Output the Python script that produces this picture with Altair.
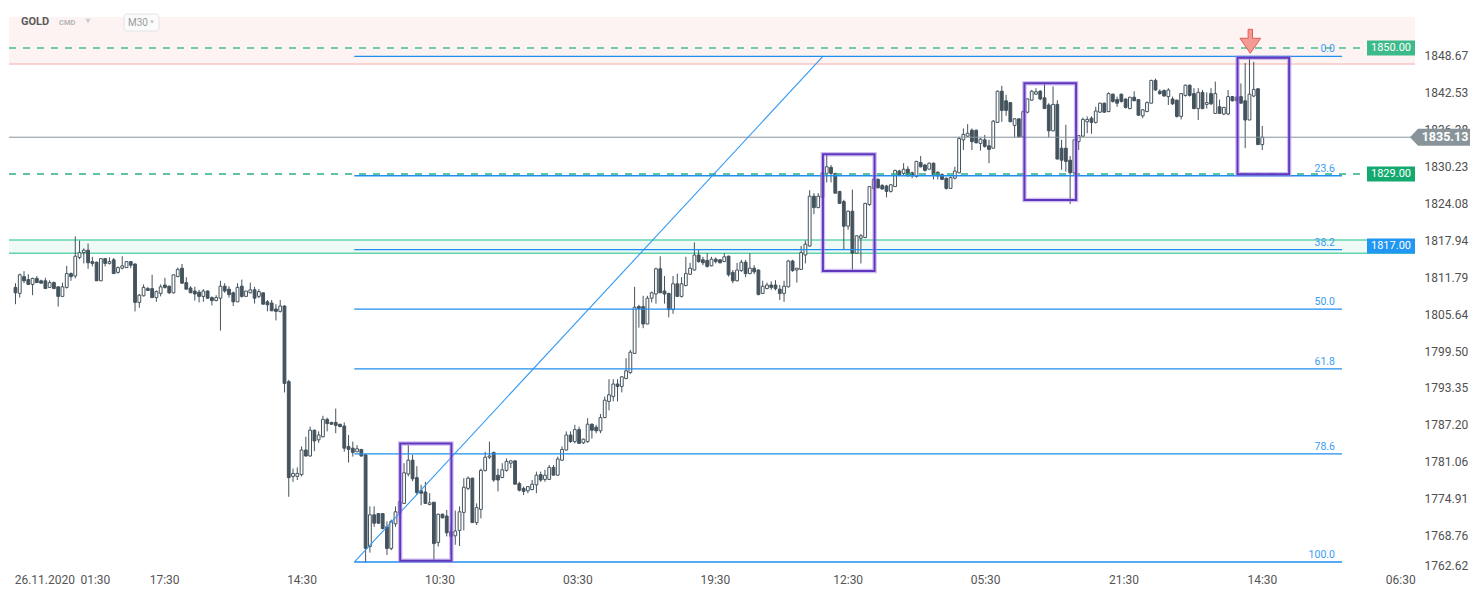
import altair as alt
import pandas as pd

# ---------------- data: GOLD, M30 candles ----------------
opens = [
    1810.1, 1809.1, 1811.9, 1811.4, 1810.6, 1811.6, 1811.2, 1811.2, 1810.1, 1810.9,
    1810.2, 1808.6, 1810.1, 1812.4, 1812.0, 1815.1, 1815.9, 1816.3, 1814.4, 1814.3,
    1811.2, 1814.9, 1814.1, 1814.7, 1812.6, 1813.3, 1813.4, 1814.4, 1814.0, 1807.6,
    1808.7, 1809.9, 1809.9, 1808.4, 1809.1, 1810.5, 1810.3, 1809.2, 1811.9, 1813.3,
    1810.9, 1810.0, 1809.5, 1809.3, 1808.6, 1809.5, 1808.4, 1807.9, 1808.3, 1810.3,
    1809.8, 1809.2, 1807.7, 1810.3, 1808.6, 1809.2, 1809.7, 1808.6, 1809.2, 1807.7,
    1807.5, 1806.5, 1806.1, 1807.0, 1794.4, 1778.6, 1778.6, 1778.9, 1783.0, 1782.0,
    1786.3, 1784.7, 1785.2, 1788.1, 1787.6, 1787.6, 1787.3, 1787.0, 1783.6, 1783.3,
    1782.7, 1783.1, 1782.2, 1766.9, 1772.2, 1772.4, 1772.4, 1770.2, 1766.6, 1770.7,
    1772.5, 1774.1, 1779.0, 1781.3, 1778.4, 1776.2, 1776.0, 1773.9, 1774.3, 1767.6,
    1772.3, 1772.0, 1769.4, 1768.7, 1769.6, 1772.6, 1776.6, 1778.3, 1770.9, 1773.1,
    1779.6, 1781.8, 1782.6, 1778.8, 1778.4, 1779.6, 1780.8, 1781.2, 1777.4, 1776.6,
    1776.2, 1776.4, 1777.2, 1778.9, 1778.1, 1778.1, 1780.1, 1778.8, 1781.3, 1783.0,
    1785.5, 1784.4, 1786.4, 1784.2, 1784.4, 1787.3, 1786.8, 1786.2, 1788.4, 1791.1,
    1791.9, 1794.0, 1793.6, 1794.9, 1795.9, 1799.1, 1806.9, 1806.9, 1804.0, 1808.3,
    1809.0, 1813.2, 1809.5, 1809.1, 1806.4, 1810.7, 1808.6, 1810.4, 1812.3, 1813.0,
    1815.5, 1814.7, 1814.6, 1813.7, 1814.8, 1814.7, 1814.4, 1815.3, 1812.6, 1811.2,
    1812.9, 1814.3, 1812.4, 1813.3, 1813.0, 1809.1, 1809.9, 1810.5, 1810.5, 1809.8,
    1809.1, 1810.2, 1814.5, 1813.0, 1813.1, 1815.5, 1817.0, 1825.3, 1823.4, 1825.1,
    1829.1, 1830.1, 1829.1, 1826.1, 1824.4, 1820.3, 1822.8, 1815.8, 1818.3, 1818.4,
    1823.9, 1826.6, 1828.1, 1827.1, 1827.0, 1826.1, 1826.9, 1829.5, 1829.1, 1829.8,
    1829.2, 1828.6, 1830.9, 1830.5, 1829.8, 1830.8, 1829.3, 1828.9, 1828.3, 1826.6,
    1828.3, 1829.2, 1834.7, 1835.3, 1836.3, 1836.3, 1834.1, 1834.7, 1833.7, 1833.3,
    1837.6, 1842.8, 1841.2, 1840.9, 1837.1, 1838.2, 1835.2, 1839.3, 1841.3, 1842.3,
    1842.8, 1841.7, 1840.5, 1836.2, 1840.6, 1833.3, 1833.3, 1831.3, 1829.2, 1834.4,
    1835.3, 1837.7, 1838.3, 1837.6, 1839.3, 1840.8, 1839.4, 1842.3, 1841.4, 1842.3,
    1841.5, 1839.9, 1841.8, 1841.4, 1838.7, 1839.4, 1840.8, 1844.6, 1842.8, 1842.9,
    1841.9, 1841.5, 1841.3, 1838.6, 1842.1, 1843.8, 1842.4, 1839.9, 1842.6, 1840.6,
    1842.4, 1839.1, 1840.2, 1839.0, 1839.0, 1841.9, 1841.8, 1841.9, 1841.2, 1838.0,
    1842.0, 1843.2, 1833.9,
]
highs = [
    1810.8, 1812.4, 1812.8, 1812.3, 1811.7, 1812.0, 1811.4, 1811.7, 1811.3, 1811.1,
    1810.2, 1810.9, 1813.7, 1812.6, 1818.6, 1817.9, 1816.6, 1817.4, 1815.2, 1814.4,
    1814.9, 1815.0, 1815.1, 1815.0, 1813.6, 1815.3, 1814.4, 1814.5, 1814.1, 1809.0,
    1810.6, 1810.2, 1812.2, 1809.6, 1810.6, 1811.7, 1810.4, 1812.2, 1813.4, 1814.0,
    1811.8, 1810.3, 1810.2, 1809.7, 1809.8, 1809.6, 1808.6, 1808.8, 1811.2, 1810.8,
    1810.3, 1809.4, 1810.8, 1811.4, 1809.5, 1810.9, 1810.2, 1809.8, 1809.2, 1808.0,
    1808.0, 1807.3, 1808.0, 1807.1, 1794.7, 1779.9, 1780.1, 1783.6, 1785.2, 1786.9,
    1786.4, 1786.1, 1788.7, 1788.4, 1787.7, 1789.9, 1787.3, 1787.6, 1785.5, 1784.4,
    1783.8, 1783.1, 1782.3, 1773.6, 1773.6, 1772.5, 1772.5, 1771.1, 1771.4, 1773.6,
    1774.6, 1780.8, 1783.8, 1782.2, 1780.3, 1777.2, 1777.7, 1775.8, 1774.3, 1772.4,
    1772.4, 1773.0, 1770.5, 1772.9, 1773.6, 1778.3, 1778.6, 1778.4, 1774.1, 1779.9,
    1782.7, 1784.4, 1782.7, 1779.9, 1780.8, 1781.6, 1781.2, 1781.2, 1777.7, 1776.9,
    1776.9, 1778.0, 1779.4, 1779.4, 1779.7, 1780.5, 1780.5, 1781.9, 1783.6, 1786.1,
    1786.1, 1787.2, 1786.9, 1784.9, 1788.3, 1787.4, 1787.2, 1789.0, 1791.9, 1794.8,
    1794.8, 1794.8, 1795.3, 1798.3, 1799.7, 1810.2, 1807.2, 1808.7, 1808.7, 1809.4,
    1813.4, 1815.3, 1812.0, 1809.2, 1812.0, 1812.4, 1811.8, 1815.2, 1814.2, 1817.6,
    1816.4, 1815.2, 1815.8, 1815.2, 1815.1, 1814.8, 1815.8, 1815.4, 1813.0, 1814.2,
    1814.7, 1814.7, 1815.8, 1813.8, 1813.1, 1811.2, 1810.9, 1811.1, 1811.3, 1810.5,
    1811.2, 1814.7, 1814.7, 1813.3, 1817.0, 1817.9, 1826.3, 1825.8, 1825.8, 1829.3,
    1832.4, 1830.5, 1829.2, 1826.1, 1824.7, 1822.9, 1826.4, 1818.7, 1819.0, 1824.2,
    1827.0, 1828.3, 1828.3, 1827.3, 1827.2, 1827.3, 1829.7, 1829.7, 1830.8, 1830.3,
    1829.4, 1831.2, 1832.0, 1830.7, 1830.9, 1830.9, 1829.4, 1829.1, 1828.4, 1828.6,
    1830.2, 1835.2, 1836.6, 1837.3, 1836.6, 1836.4, 1835.0, 1835.5, 1834.7, 1838.0,
    1842.9, 1843.7, 1842.2, 1841.0, 1838.3, 1838.2, 1839.6, 1841.6, 1843.0, 1843.3,
    1843.0, 1844.1, 1840.8, 1843.6, 1841.3, 1834.7, 1837.2, 1832.0, 1834.7, 1835.5,
    1838.4, 1838.6, 1838.6, 1840.2, 1840.9, 1840.9, 1842.6, 1842.4, 1841.9, 1842.4,
    1841.6, 1841.8, 1842.8, 1841.4, 1839.8, 1841.1, 1844.7, 1844.9, 1843.1, 1843.1,
    1843.3, 1841.9, 1841.4, 1842.4, 1843.9, 1843.9, 1843.3, 1843.3, 1843.0, 1842.6,
    1843.3, 1844.4, 1841.4, 1840.2, 1843.0, 1842.0, 1842.0, 1844.1, 1847.5, 1848.3,
    1847.7, 1843.3, 1837.0,
]
lows = [
    1807.3, 1808.4, 1810.8, 1810.5, 1808.8, 1810.9, 1810.8, 1809.9, 1810.0, 1809.9,
    1806.9, 1808.6, 1809.9, 1811.2, 1811.6, 1814.8, 1814.1, 1813.2, 1813.6, 1811.2,
    1811.2, 1813.6, 1813.9, 1812.4, 1812.4, 1813.1, 1813.4, 1813.3, 1806.1, 1806.7,
    1808.6, 1809.5, 1808.4, 1807.7, 1808.6, 1809.9, 1809.0, 1809.1, 1811.8, 1810.7,
    1809.8, 1809.2, 1807.9, 1807.6, 1807.7, 1808.2, 1807.1, 1807.8, 1802.9, 1809.2,
    1808.4, 1807.0, 1807.7, 1808.4, 1808.6, 1809.1, 1807.4, 1808.3, 1807.3, 1806.1,
    1806.2, 1804.6, 1805.9, 1792.6, 1775.2, 1777.7, 1778.0, 1778.6, 1781.9, 1781.9,
    1782.8, 1784.2, 1785.1, 1786.1, 1787.2, 1785.8, 1786.8, 1782.7, 1780.9, 1781.9,
    1782.7, 1781.9, 1764.2, 1765.9, 1770.2, 1770.7, 1769.8, 1765.5, 1766.3, 1770.2,
    1772.2, 1774.0, 1778.6, 1777.8, 1775.5, 1773.8, 1774.0, 1773.8, 1764.7, 1766.9,
    1771.6, 1768.6, 1765.5, 1767.2, 1767.0, 1769.6, 1776.3, 1770.9, 1770.5, 1771.6,
    1779.4, 1781.5, 1777.7, 1776.1, 1778.3, 1779.4, 1780.0, 1777.3, 1776.1, 1775.5,
    1775.8, 1776.3, 1775.8, 1777.7, 1777.7, 1778.0, 1778.8, 1778.7, 1781.2, 1782.9,
    1784.2, 1784.1, 1784.0, 1784.0, 1784.2, 1784.9, 1785.8, 1785.8, 1788.3, 1789.6,
    1791.1, 1791.1, 1792.6, 1794.8, 1795.7, 1799.1, 1803.4, 1803.3, 1804.0, 1807.6,
    1807.4, 1809.2, 1807.4, 1805.1, 1805.7, 1808.5, 1808.4, 1810.3, 1812.2, 1812.9,
    1814.2, 1813.8, 1813.4, 1813.6, 1814.1, 1814.1, 1814.4, 1811.9, 1810.8, 1811.1,
    1812.7, 1811.8, 1812.3, 1812.3, 1808.8, 1809.0, 1809.8, 1809.7, 1809.6, 1808.0,
    1807.7, 1810.1, 1812.7, 1810.9, 1813.0, 1814.1, 1816.9, 1822.3, 1823.3, 1824.9,
    1827.6, 1827.6, 1825.8, 1824.0, 1816.4, 1819.7, 1812.9, 1815.7, 1814.1, 1818.3,
    1823.7, 1826.4, 1826.6, 1826.4, 1825.1, 1825.9, 1826.9, 1828.7, 1828.7, 1828.6,
    1828.3, 1828.4, 1830.1, 1829.4, 1829.7, 1828.1, 1828.1, 1828.0, 1826.4, 1826.5,
    1828.1, 1829.1, 1833.0, 1835.2, 1833.0, 1834.1, 1832.9, 1833.4, 1830.8, 1833.3,
    1837.5, 1837.7, 1838.7, 1837.7, 1835.1, 1835.1, 1835.0, 1839.1, 1841.2, 1842.2,
    1841.3, 1839.9, 1835.1, 1836.1, 1831.4, 1829.7, 1829.4, 1824.0, 1829.1, 1833.0,
    1835.2, 1835.8, 1835.7, 1837.4, 1839.2, 1839.2, 1839.3, 1840.9, 1840.2, 1840.9,
    1839.9, 1839.8, 1841.2, 1838.7, 1838.3, 1839.3, 1840.8, 1842.9, 1842.2, 1841.9,
    1840.5, 1840.5, 1838.4, 1838.1, 1841.9, 1841.9, 1839.8, 1838.0, 1839.8, 1839.9,
    1840.5, 1839.0, 1839.1, 1838.8, 1838.8, 1841.1, 1841.2, 1840.8, 1833.3, 1838.0,
    1841.8, 1833.9, 1833.0,
]
closes = [
    1809.2, 1812.2, 1811.2, 1810.6, 1811.6, 1810.9, 1810.8, 1809.9, 1810.9, 1809.9,
    1808.6, 1810.2, 1812.4, 1811.9, 1815.3, 1815.9, 1816.3, 1814.2, 1814.1, 1811.2,
    1814.9, 1814.1, 1814.4, 1812.4, 1813.4, 1813.7, 1814.4, 1813.8, 1807.6, 1808.8,
    1810.1, 1809.6, 1808.4, 1809.4, 1810.2, 1810.1, 1809.2, 1812.2, 1813.1, 1810.8,
    1809.8, 1809.2, 1809.0, 1808.6, 1809.5, 1808.3, 1807.9, 1808.4, 1810.3, 1809.5,
    1808.9, 1807.7, 1810.1, 1808.6, 1809.5, 1809.7, 1808.3, 1809.4, 1807.3, 1807.2,
    1806.2, 1806.1, 1807.0, 1794.1, 1778.4, 1779.1, 1779.1, 1783.0, 1782.0, 1786.3,
    1784.5, 1785.5, 1788.1, 1787.4, 1787.3, 1787.1, 1786.9, 1783.3, 1783.1, 1782.6,
    1783.2, 1782.0, 1766.6, 1772.2, 1770.8, 1770.8, 1769.9, 1766.6, 1771.1, 1772.7,
    1774.4, 1779.2, 1781.3, 1778.2, 1775.9, 1775.8, 1774.1, 1774.2, 1767.4, 1772.3,
    1771.7, 1769.2, 1768.6, 1769.5, 1772.7, 1776.8, 1778.3, 1770.9, 1773.4, 1779.6,
    1781.8, 1782.0, 1778.0, 1778.0, 1779.7, 1781.1, 1781.2, 1777.3, 1776.3, 1776.1,
    1776.9, 1777.3, 1778.8, 1778.0, 1778.8, 1780.1, 1778.8, 1781.5, 1783.1, 1785.5,
    1784.4, 1786.4, 1784.1, 1784.8, 1787.3, 1786.3, 1786.2, 1788.4, 1791.3, 1792.2,
    1794.0, 1793.6, 1795.2, 1796.2, 1799.3, 1806.8, 1806.6, 1804.0, 1808.3, 1809.2,
    1813.2, 1809.2, 1809.0, 1806.4, 1810.7, 1808.6, 1810.7, 1812.4, 1813.3, 1815.5,
    1814.4, 1814.2, 1813.6, 1814.8, 1814.4, 1814.2, 1815.2, 1812.2, 1811.2, 1813.0,
    1814.3, 1812.4, 1813.3, 1812.7, 1808.9, 1810.3, 1810.5, 1810.1, 1809.9, 1809.1,
    1810.3, 1814.5, 1812.9, 1813.3, 1815.9, 1817.3, 1825.3, 1823.4, 1825.3, 1829.2,
    1830.2, 1829.1, 1825.8, 1824.1, 1820.3, 1822.8, 1815.8, 1818.7, 1818.7, 1824.1,
    1826.9, 1828.1, 1826.7, 1826.5, 1826.1, 1827.2, 1829.6, 1828.8, 1829.8, 1828.7,
    1828.7, 1831.1, 1830.2, 1829.6, 1830.8, 1828.9, 1828.7, 1828.1, 1826.6, 1828.4,
    1829.5, 1834.9, 1835.6, 1835.8, 1834.4, 1834.2, 1834.8, 1833.6, 1833.1, 1837.8,
    1842.8, 1839.6, 1839.6, 1837.7, 1838.2, 1835.2, 1839.4, 1841.5, 1842.8, 1842.7,
    1841.5, 1839.9, 1836.2, 1840.6, 1831.5, 1831.3, 1831.1, 1829.2, 1834.7, 1835.4,
    1838.1, 1838.1, 1837.6, 1839.5, 1840.8, 1839.3, 1842.4, 1841.1, 1840.8, 1841.1,
    1840.1, 1841.8, 1841.2, 1838.8, 1839.7, 1840.9, 1844.6, 1843.0, 1842.4, 1842.0,
    1843.0, 1840.7, 1838.6, 1842.4, 1843.8, 1842.1, 1839.9, 1842.6, 1839.9, 1840.9,
    1840.7, 1842.4, 1839.1, 1840.1, 1841.9, 1841.2, 1841.2, 1840.8, 1838.0, 1842.3,
    1843.1, 1833.9, 1835.13,
]

# axis ticks (candle index positions and their time labels)
x_tick_pos = [0.7, 19.6, 35.8, 68.0, 100.3, 132.6, 164.8, 195.9, 228.1, 260.5, 292.9, 325.3]
x_tick_lbl = ["26.11.2020", "01:30", "17:30", "14:30", "10:30", "03:30", "19:30",
              "12:30", "05:30", "21:30", "14:30", "06:30"]
y_ticks = [1848.67, 1842.53, 1836.38, 1830.23, 1824.08, 1817.94, 1811.79, 1805.64,
           1799.50, 1793.35, 1787.20, 1781.06, 1774.91, 1768.76, 1762.62]

# horizontal levels / zones
pink_zone = [1847.33, 1855.17]
green_zone = [1815.8, 1818.0]
last_price = 1835.13
dashed_levels = [1850.0, 1829.0]
dashed_names = ["1850.00", "1829.00"]
blue_level = 1817.0
blue_name = "1817.00"

# Fibonacci retracement drawing
fib_ratios = [0.0, 23.6, 38.2, 50.0, 61.8, 78.6, 100.0]
fib_high, fib_low = 1848.6, 1764.33
fib_start, fib_end, fib_peak = 80.35, 311.67, 190.1

# highlighted rectangles (candle index range, price range)
box_x0 = [91.1, 190.1, 237.3, 287.2]
box_x1 = [103.1, 202.2, 249.4, 299.3]
box_lo = [1764.55, 1812.83, 1824.67, 1828.95]
box_hi = [1784.1, 1832.28, 1844.11, 1848.38]

# down arrow marker
arrow_idx, arrow_price = 290.2, 1851.12

# ---------------- styles / layout ----------------
W, H = 1406, 565
DARK = "#44535d"
FONT = "Roboto"
xs = alt.Scale(domain=[0.651, 327.6], nice=False, zero=False)
ys = alt.Scale(domain=[1762.5, 1856.667], nice=False, zero=False)

label_expr = ("[" + ",".join("'%s'" % s for s in x_tick_lbl) + "][indexof(["
              + ",".join(str(v) for v in x_tick_pos) + "], datum.value)]")
x_axis = alt.Axis(values=x_tick_pos, labelExpr=label_expr, ticks=False, domain=False,
                  grid=False, labelFont=FONT, labelFontSize=12, labelColor="#555555",
                  labelPadding=1, labelOverlap=False, title=None,
                  labelAlign={"condition": {"test": "datum.value < 1", "value": "left"},
                              "value": "center"})
y_axis = alt.Axis(values=y_ticks, format=".2f", orient="right", ticks=False, domain=False,
                  grid=False, labelFont=FONT, labelFontSize=12, labelColor="#505050",
                  labelPadding=9, labelOverlap=False, title=None,
                  labelBaseline={"condition": {"test": "datum.value < 1763", "value": "bottom"},
                                 "value": "middle"})

df = pd.DataFrame({"i": list(range(1, len(closes) + 1)), "open": opens, "high": highs,
                   "low": lows, "close": closes})
df["dir"] = ["up" if c >= o else "down" for o, c in zip(opens, closes)]


def yq(field):
    return alt.Y(field, scale=ys, axis=y_axis, title=None)


def xq(field):
    return alt.X(field, scale=xs, axis=x_axis, title=None)


one = pd.DataFrame({"k": [0]})


def hline(price, color, width=1.0, dash=None, x2=None):
    kw = dict(color=color, strokeWidth=width)
    if dash is not None:
        kw["strokeDash"] = dash
    enc = dict(y=yq("p:Q"))
    if x2 is not None:
        enc["x"] = alt.value(0)
        enc["x2"] = alt.value(x2)
    return alt.Chart(pd.DataFrame({"p": [price]})).mark_rule(**kw).encode(**enc)


def zone(lo, hi, color):
    return alt.Chart(pd.DataFrame({"a": [lo], "b": [hi]})).mark_rect(color=color).encode(
        x=alt.value(0), x2=alt.value(W), y=yq("a:Q"), y2="b:Q")


BOX = "M-1,-0.3125L1,-0.3125L1,0.3125L-1,0.3125Z"


def tag(price, text, color):
    d = pd.DataFrame({"p": [price], "t": [text]})
    box = alt.Chart(d).mark_point(shape=BOX, size=2304, filled=True, fill=color,
                                  opacity=1).encode(x=alt.value(1382), y=yq("p:Q"))
    txt = alt.Chart(d).mark_text(font=FONT, fontSize=11, color="white").encode(
        x=alt.value(1382), y=yq("p:Q"), text="t:N")
    return [box, txt]


pink = zone(pink_zone[0], pink_zone[1], "#fcf3f2")
pink_line = hline(pink_zone[0], "#f6aca8", 1)
green = zone(green_zone[0], green_zone[1], "#eff9f5")
green_top = hline(green_zone[1], "#62d4aa", 1.5)
green_bot = hline(green_zone[0], "#62d4aa", 1.5)
gray_line = hline(last_price, "#86939a", 1)
dash1 = hline(dashed_levels[0], "#46bd8e", 1.4, [7, 7], 1358)
dash2 = hline(dashed_levels[1], "#2fb07c", 1.4, [7, 7], 1358)

wicks = alt.Chart(df).mark_rule(color=DARK, strokeWidth=1).encode(
    x=xq("i:Q"), y=yq("low:Q"), y2="high:Q")
bodies_up = alt.Chart(df).transform_filter("datum.dir == 'up'").mark_bar(
    width=2.8, stroke=DARK, strokeWidth=1, fill="#ffffff").encode(
    x=xq("i:Q"), y=yq("open:Q"), y2="close:Q")
bodies_dn = alt.Chart(df).transform_filter("datum.dir == 'down'").mark_bar(
    width=2.8, stroke=DARK, strokeWidth=1, fill=DARK).encode(
    x=xq("i:Q"), y=yq("open:Q"), y2="close:Q")

fib_prices = [fib_high - r / 100.0 * (fib_high - fib_low) for r in fib_ratios]
fib_df = pd.DataFrame({"p": fib_prices, "t": ["%.1f" % r for r in fib_ratios],
                       "x0": [fib_start] * len(fib_ratios), "x1": [fib_end] * len(fib_ratios)})
fib_lines = alt.Chart(fib_df).mark_rule(color="#1e8ef0", strokeWidth=1.3).encode(
    x=xq("x0:Q"), x2="x1:Q", y=yq("p:Q"))
fib_text = alt.Chart(fib_df).mark_text(align="right", baseline="alphabetic", dy=-4, dx=-7,
                                       font=FONT, fontSize=10.5, color="#3a9cf5").encode(
    x=xq("x1:Q"), y=yq("p:Q"), text="t:N")
diag = alt.Chart(pd.DataFrame({"x0": [fib_start], "x1": [fib_peak], "a": [fib_low],
                               "b": [fib_high]})).mark_rule(
    color="#3399f3", strokeWidth=1.1).encode(x=xq("x0:Q"), x2="x1:Q", y=yq("a:Q"), y2="b:Q")

box_df = pd.DataFrame({"x0": box_x0, "x1": box_x1, "a": box_lo, "b": box_hi})
boxes_halo = alt.Chart(box_df).mark_rect(fillOpacity=0, stroke="#a88be3", strokeWidth=4.5,
                                         strokeOpacity=0.55).encode(
    x=xq("x0:Q"), x2="x1:Q", y=yq("a:Q"), y2="b:Q")
boxes = alt.Chart(box_df).mark_rect(fillOpacity=0, stroke="#6037bd", strokeWidth=2).encode(
    x=xq("x0:Q"), x2="x1:Q", y=yq("a:Q"), y2="b:Q")

ARROW = "M-0.18,-1L0.18,-1L0.18,-0.25L0.86,-0.25L0,1L-0.86,-0.25L-0.18,-0.25Z"
arrow = alt.Chart(pd.DataFrame({"x": [arrow_idx], "p": [arrow_price]})).mark_point(
    shape=ARROW, size=576, filled=True, fill="#f29a93", stroke="#e25b52", strokeWidth=1,
    opacity=1).encode(x=xq("x:Q"), y=yq("p:Q"))

tags = (tag(dashed_levels[0], dashed_names[0], "#3dba8a")
        + tag(dashed_levels[1], dashed_names[1], "#14a96e")
        + tag(blue_level, blue_name, "#2196f3"))

PTAG = "M-1,0L-0.7333,-0.2833L1,-0.2833L1,0.2833L-0.7333,0.2833Z"
last_df = pd.DataFrame({"p": [last_price], "t": ["%.2f" % last_price]})
last_tag = alt.Chart(last_df).mark_point(shape=PTAG, size=3600, filled=True, fill="#89949a",
                                         opacity=1).encode(x=alt.value(1431), y=yq("p:Q"))
last_text = alt.Chart(last_df).mark_text(font=FONT, fontSize=12.5, fontWeight="bold",
                                         color="white").encode(
    x=alt.value(1436), y=yq("p:Q"), text="t:N")

# header
gold_t = alt.Chart(one).mark_text(text="GOLD", font=FONT, fontSize=11, fontWeight="bold",
                                  color="#5b5b5b", align="left").encode(
    x=alt.value(12), y=alt.value(14))
cmd_t = alt.Chart(one).mark_text(text="CMD", font=FONT, fontSize=7.5, fontWeight="bold",
                                 color="#b5b5b5", align="left").encode(
    x=alt.value(50), y=alt.value(15))
caret1 = alt.Chart(one).mark_point(shape="triangle-down", size=28, filled=True,
                                   color="#cccccc", opacity=1).encode(
    x=alt.value(79), y=alt.value(13))
m30_box = alt.Chart(one).mark_rect(fill="#fbfbfb", stroke="#e4e4e4", strokeWidth=1,
                                   cornerRadius=3).encode(
    x=alt.value(115), x2=alt.value(150), y=alt.value(6), y2=alt.value(23))
m30_t = alt.Chart(one).mark_text(text="M30", font=FONT, fontSize=10, color="#9a9a9a",
                                 align="left").encode(x=alt.value(119), y=alt.value(15))
caret2 = alt.Chart(one).mark_point(shape="triangle-down", size=14, filled=True,
                                   color="#bbbbbb", opacity=1).encode(
    x=alt.value(143), y=alt.value(14))

layers = [pink, pink_line, green, green_top, green_bot, wicks, bodies_up, bodies_dn,
          gray_line, dash1, dash2, fib_lines, fib_text, diag, boxes_halo, boxes, arrow]
layers += tags
layers += [last_tag, last_text, gold_t, cmd_t, caret1, m30_box, m30_t, caret2]

chart = alt.layer(*layers).properties(
    width=W, height=H, padding={"left": 0, "top": 0, "right": 0, "bottom": 0},
    background="white",
).configure_view(strokeWidth=0)

chart.save("out.html", embed_options={"renderer": "svg", "actions": False})
